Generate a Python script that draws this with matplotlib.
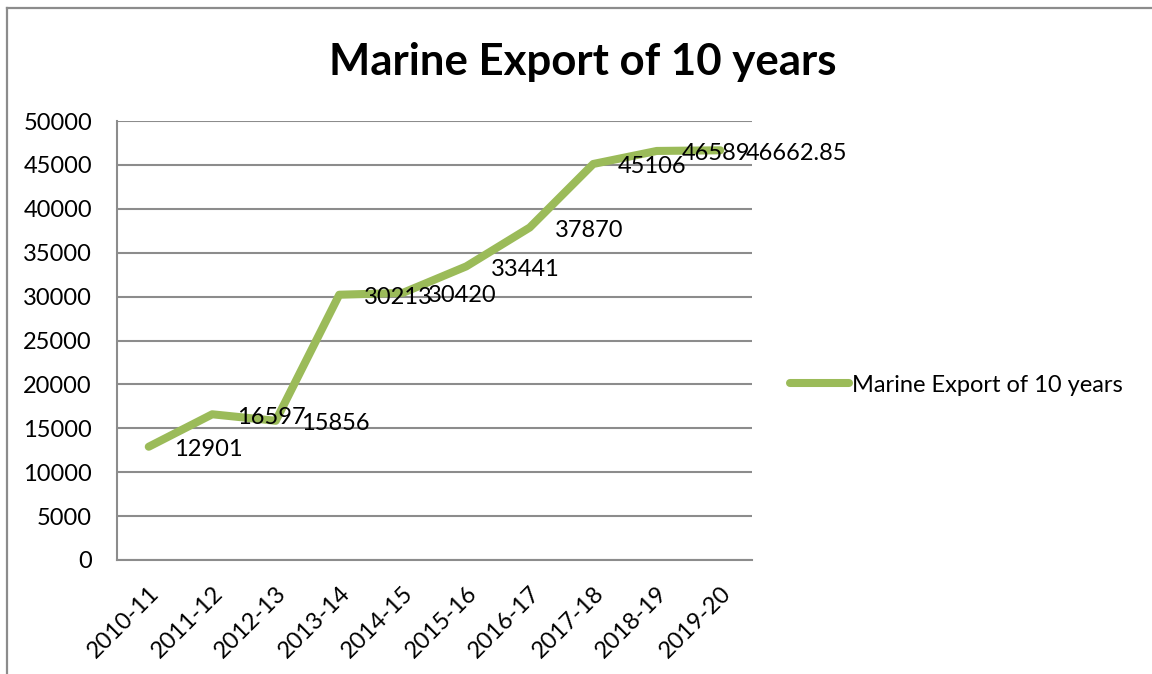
import matplotlib
matplotlib.use("Agg")
import matplotlib.pyplot as plt
from matplotlib.lines import Line2D

years = ["2010-11", "2011-12", "2012-13", "2013-14", "2014-15",
         "2015-16", "2016-17", "2017-18", "2018-19", "2019-20"]
exports = [12901, 16597, 15856, 30213, 30420, 33441, 37870, 45106, 46589, 46662.85]
labels = ["12901", "16597", "15856", "30213", "30420", "33441", "37870",
          "45106", "46589", "46662.85"]
yticks = [0, 5000, 10000, 15000, 20000, 25000, 30000, 35000, 40000, 45000, 50000]
series_name = "Marine Export of 10 years"
title = "Marine Export of 10 years"

plt.rcParams['font.family'] = ['Lato', 'DejaVu Sans']

W, H = 1152, 674
fig = plt.figure(figsize=(W / 100, H / 100), dpi=100)
ax = fig.add_axes([117 / W, 1 - 560 / H, (752 - 117) / W, (560 - 121) / H])

green = '#9BBB59'
grid = '#8C8C8C'
fs = 17
x = list(range(len(years)))
line, = ax.plot(x, exports, color=green, lw=5.8, solid_capstyle='round',
                solid_joinstyle='round', label=series_name)

for xi, yi, lab in zip(x, exports, labels):
    ax.annotate(lab, (xi, yi), xytext=(18, -2), textcoords='offset points',
                ha='left', va='center', fontsize=fs, color='black')

ax.set_xlim(-0.5, len(years) - 0.5)
ax.set_ylim(0, 50000)
ax.set_yticks(yticks)
ax.set_yticklabels([str(v) for v in yticks], fontsize=fs)
ax.set_xticks(x)
ax.set_xticklabels(years, fontsize=fs, rotation=45, ha='right', va='top',
                   rotation_mode='anchor')
ax.tick_params(axis='both', length=0)
ax.tick_params(axis='y', pad=18)
ax.tick_params(axis='x', pad=16)
ax.yaxis.grid(True, color=grid, lw=1.5)
ax.set_axisbelow(True)
for s in ['top', 'right']:
    ax.spines[s].set_visible(False)
for s in ['left', 'bottom']:
    ax.spines[s].set_color(grid)
    ax.spines[s].set_linewidth(1.5)

fig.text(583 / W, 1 - 62 / H, title, ha='center', va='center',
         fontsize=31.5, fontweight='bold')

fig.legend(handles=[line], loc='center left',
           bbox_to_anchor=(790 / W, 1 - 385 / H), frameon=False,
           fontsize=fs, handlelength=2.5, handletextpad=0.12,
           borderpad=0, borderaxespad=0)

# chart frame (left and top edges visible)
fig.add_artist(Line2D([7 / W, 7 / W], [0, 1 - 8 / H], color='#8C8C8C', lw=1.6,
                      transform=fig.transFigure))
fig.add_artist(Line2D([7 / W, 1], [1 - 8 / H, 1 - 8 / H], color='#8C8C8C', lw=1.6,
                      transform=fig.transFigure))

fig.savefig("out.png", dpi=100)
